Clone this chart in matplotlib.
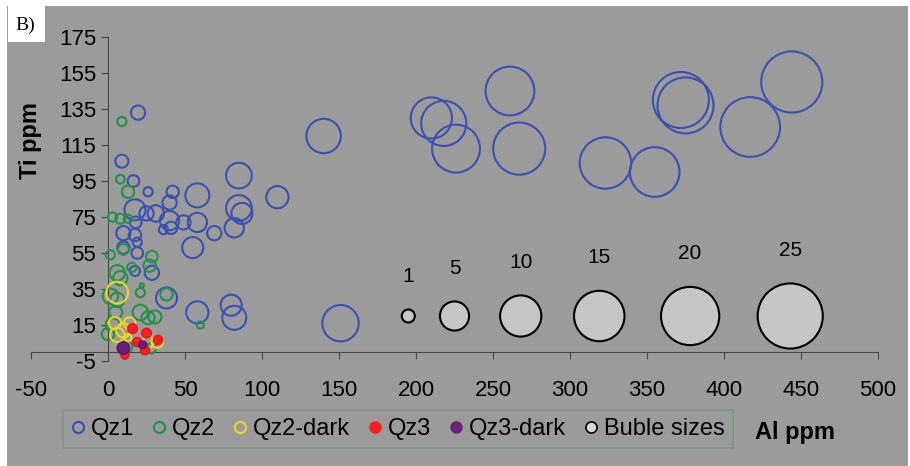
import matplotlib.pyplot as plt
from matplotlib.lines import Line2D
from matplotlib.patches import Rectangle

plt.rcParams['font.family'] = ['Liberation Sans', 'DejaVu Sans']
plt.rcParams['axes.unicode_minus'] = False

# Qz1 : Al ppm, Ti ppm, bubble size
qz1_al = [140, 210, 218, 226, 261, 267, 323, 355, 372, 375, 417, 444, 151,
          19.5, 9, 16.5, 26, 42, 58, 85, 110, 85, 87, 82, 69, 58, 49, 40, 40,
          41, 36, 31, 25, 17.5, 18, 10, 17.5, 19, 10, 19, 55, 28.5, 17.5, 38,
          58, 80, 82]
qz1_ti = [120, 130, 127, 113, 145, 113, 105, 100, 140, 137, 125, 150, 16,
          133, 106, 95, 89, 89, 87, 98, 86, 80, 77, 69, 66, 72, 72, 83, 73,
          69, 68, 77, 77, 79, 72, 66, 65, 61, 58, 55, 58, 44, 45, 30,
          22, 26, 19]
qz1_size = [7, 10, 12, 13.5, 14, 16, 15.6, 14.5, 18.5, 18.5, 21, 22, 7.8,
            1.2, 1.0, 0.8, 0.5, 0.9, 3.4, 3.9, 2.9, 3.9, 2.6, 2.2, 1.2, 2.2,
            1.2, 1.2, 2.2, 0.9, 0.5, 1.6, 1.2, 2.6, 0.8, 1.2, 0.9, 0.5, 0.9,
            0.8, 2.6, 1.2, 0.6, 2.6, 2.9, 2.6, 3.4]

qz2_al = [9, 8, 13, 3, 8, 13, 10, 1.5, 28.5, 27, 15.5, 6, 8, 21, 22, 38,
          1.5, 6, 21, 26, 30.5, 60, 0, 3, 5, 12, 28]
qz2_ti = [128, 96, 89, 75, 74, 74, 57, 54, 53, 48, 47, 44, 41, 33, 37, 32,
          31, 29, 22, 19, 19.5, 15, 10, 15, 22, 3, 2]
qz2_size = [0.5, 0.45, 0.9, 0.5, 0.6, 0.4, 0.7, 0.5, 0.8, 0.9, 0.5, 1.4,
            1.2, 0.5, 0.1, 0.9, 1.4, 1.2, 1.4, 1.0, 1.0, 0.3, 0.9, 1.2, 1.0,
            0.8, 0.6]

qz2d_al = [6, 4.5, 10, 6, 13, 26, 32, 14]
qz2d_ti = [33, 16, 12, 9.5, 8, 5.5, 5.5, 16]
qz2d_size = [2.8, 0.9, 1.2, 1.2, 0.3, 0.8, 0.8, 0.8]

qz3_al = [16, 25, 32.5, 19, 24, 11]
qz3_ti = [13, 10.5, 6.7, 5.5, 1, -1.7]
qz3_size = [0.55, 0.55, 0.5, 0.5, 0.5, 0.4]

qz3d_al = [10, 22.5]
qz3d_ti = [2.2, 4]
qz3d_size = [0.9, 0.35]

ref_al = [195, 225, 268, 319, 378, 443]
ref_ti = [20, 20, 20, 20, 20, 20]
ref_size = [1, 5, 10, 15, 20, 25]

bg = '#9b9b9b'
k = 88  # points^2 per bubble-size unit

fig = plt.figure(figsize=(9.1, 4.66), dpi=100, facecolor='white')
fig.patches.append(Rectangle((7 / 910, 0), 901 / 910, 460 / 466,
                             transform=fig.transFigure, facecolor=bg,
                             edgecolor='none', zorder=-10))

ax = fig.add_axes([31 / 910, 105 / 466, 847 / 910, 324 / 466])
ax.set_facecolor(bg)

ax.scatter(qz1_al, qz1_ti, s=[k * v for v in qz1_size], facecolors='none',
           edgecolors='#3a50b2', linewidths=1.5, zorder=3)
ax.scatter(qz2_al, qz2_ti, s=[k * v for v in qz2_size], facecolors='none',
           edgecolors='#239248', linewidths=1.5, zorder=3)
ax.scatter(qz2d_al, qz2d_ti, s=[k * v for v in qz2d_size], facecolors='none',
           edgecolors='#ecd22a', linewidths=1.5, zorder=4)
ax.scatter(qz3_al, qz3_ti, s=[k * v for v in qz3_size], facecolors='#f82020',
           edgecolors='#e01818', linewidths=1, zorder=5)
ax.scatter(qz3d_al, qz3d_ti, s=[k * v for v in qz3d_size], facecolors='#6a1f78',
           edgecolors='#5a1468', linewidths=1, zorder=6)
ax.scatter(ref_al, ref_ti, s=[k * v for v in ref_size], facecolors='#c6c6c6',
           edgecolors='black', linewidths=1.5, zorder=3)
for x, y, v in zip(ref_al, ref_ti, ref_size):
    r = (k * v) ** 0.5 / 2
    ax.annotate(str(v), (x, y), xytext=(0, r + 17), textcoords='offset points',
                ha='center', va='bottom', fontsize=15)

ax.set_xlim(-50, 500)
ax.set_ylim(-5, 175)
ax.set_xticks(range(-50, 501, 50))
ax.set_yticks(range(-5, 176, 20))
ax.spines['left'].set_position(('data', 0))
ax.spines['bottom'].set_position(('data', 0))
ax.spines['top'].set_visible(False)
ax.spines['right'].set_visible(False)
for sp in ('left', 'bottom'):
    ax.spines[sp].set_color('#454545')
ax.tick_params(axis='both', colors='#454545', labelcolor='black',
               labelsize=16, length=5)
ax.tick_params(axis='x', pad=15)

# white "B)" panel tag in the corner
fig.patches.append(Rectangle((8 / 910, 424 / 466), 37 / 910, 42 / 466,
                             transform=fig.transFigure, facecolor='white',
                             edgecolor='none', zorder=5))
fig.text(25 / 910, 441 / 466, 'B)', family='Liberation Serif', fontsize=14,
         ha='center', va='center', zorder=6)

fig.text(30 / 910, 1 - 140 / 466, 'Ti ppm', rotation=90, fontsize=17,
         fontweight='bold', ha='center', va='center')
fig.text(795 / 910, 1 - 433 / 466, 'Al ppm', fontsize=17, fontweight='bold',
         ha='center', va='center')

handles = [
    Line2D([], [], ls='none', marker='o', ms=8, mfc='none', mec='#3a50b2', mew=1.5),
    Line2D([], [], ls='none', marker='o', ms=8, mfc='none', mec='#239248', mew=1.5),
    Line2D([], [], ls='none', marker='o', ms=8, mfc='none', mec='#ecd22a', mew=1.5),
    Line2D([], [], ls='none', marker='o', ms=8, mfc='#f82020', mec='#f82020'),
    Line2D([], [], ls='none', marker='o', ms=8, mfc='#6a1f78', mec='#6a1f78'),
    Line2D([], [], ls='none', marker='o', ms=8, mfc='#d8d8d8', mec='black', mew=1.2),
]
labels = ['Qz1', 'Qz2', 'Qz2-dark', 'Qz3', 'Qz3-dark', 'Buble sizes']
leg = fig.legend(handles, labels, loc='center', ncol=6,
                 bbox_to_anchor=(398 / 910, 1 - 429 / 466), fontsize=17,
                 frameon=True, fancybox=False, handlelength=0.6,
                 handletextpad=0.25, columnspacing=0.75, borderpad=0.35)
leg.get_frame().set_facecolor(bg)
leg.get_frame().set_edgecolor('#6f9a78')
leg.get_frame().set_linewidth(1.2)

fig.savefig('out.png', dpi=100, facecolor=fig.get_facecolor())
